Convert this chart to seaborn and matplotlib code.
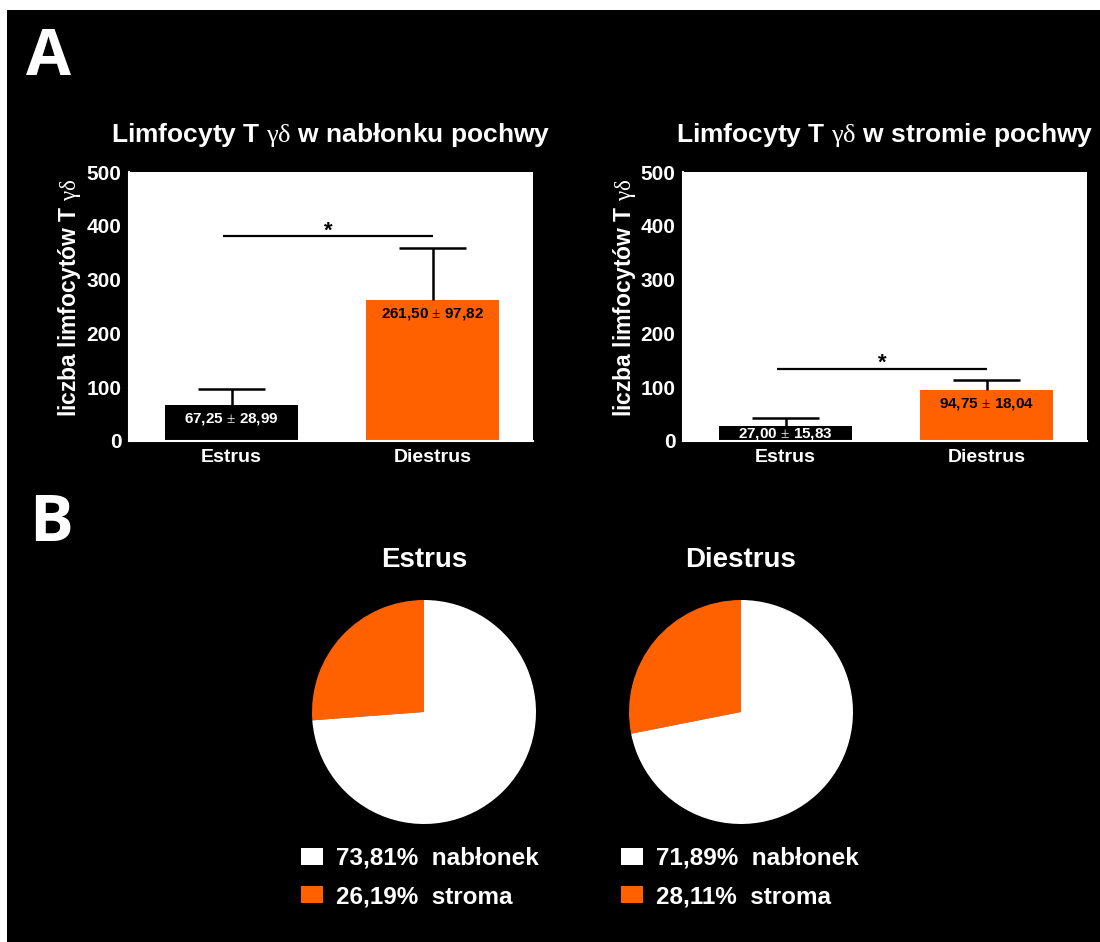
import numpy as np
import matplotlib
matplotlib.use("Agg")
import matplotlib.pyplot as plt
from matplotlib.patches import Rectangle
import seaborn as sns

# ---- data ----
cycle = ["Estrus", "Diestrus"]
epi_mean = [67.25, 261.50]
epi_sd = [28.99, 97.82]
str_mean = [27.00, 94.75]
str_sd = [15.83, 18.04]
pie_stroma = [26.19, 28.11]
pie_epi = [73.81, 71.89]
y_ticks = [0, 100, 200, 300, 400, 500]

ORANGE = "#FF6000"
W, H = 1100, 942

sns.set_theme(style="white")
plt.rcParams["font.family"] = ["Liberation Sans", "DejaVu Sans"]
plt.rcParams["mathtext.fontset"] = "custom"
plt.rcParams["mathtext.rm"] = "Liberation Serif"
plt.rcParams["mathtext.it"] = "Liberation Serif:italic"

fig = plt.figure(figsize=(W / 100, H / 100), dpi=100, facecolor="white")
fig.patches.append(Rectangle((7 / W, 0), 1 - 7 / W, 1 - 10 / H,
                             transform=fig.transFigure, facecolor="black",
                             edgecolor="none", zorder=-10))


def fx(px):
    return px / W


def fy(py):
    return 1 - py / H


def fmt(v):
    return f"{v:.2f}".replace(".", ",")


def bar_panel(left, means, sds, title):
    ax = fig.add_axes([fx(left), fy(441), 404 / W, 269 / H])
    ax.set_facecolor("white")
    sns.barplot(x=cycle, y=means, hue=cycle, palette=["black", ORANGE],
                width=0.66, saturation=1, legend=False, ax=ax, linewidth=0)
    xs = np.arange(len(cycle))
    tops = np.array(means) + np.array(sds)
    ax.vlines(xs, means, tops, color="black", lw=1.8, zorder=3)
    ax.hlines(tops, xs - 0.167, xs + 0.167, color="black", lw=1.8, zorder=3)
    ax.set_xlim(-0.51, 1.5)
    ax.set_ylim(0, 500)
    ax.set_yticks(y_ticks)
    ax.set_xticks(xs)
    ax.set_xticklabels(cycle)
    for s in ["top", "right"]:
        ax.spines[s].set_visible(False)
    for s in ["left", "bottom"]:
        ax.spines[s].set_color("white")
        ax.spines[s].set_linewidth(1.5)
    ax.tick_params(axis="both", colors="white", length=4, width=1.5,
                   labelsize=14, pad=1.5, direction="out")
    ax.tick_params(axis="y", labelsize=15)
    ax.tick_params(axis="x", pad=2)
    for lab in ax.get_xticklabels() + ax.get_yticklabels():
        lab.set_fontweight("bold")
        lab.set_color("white")
    # value labels inside bars
    px_per_unit = 269 / 500
    for i, (m, s) in enumerate(zip(means, sds)):
        if m * px_per_unit > 30:
            y = m - 14 / px_per_unit
        else:
            y = m / 2
        ax.text(i, y, f"{fmt(m)} $\\pm$ {fmt(s)}", ha="center", va="center",
                fontsize=11, fontweight="bold",
                color="white" if i == 0 else "black", zorder=4)
    # significance bar
    ysig = tops.max() + 21
    ax.hlines(ysig, -0.04, 1.0, color="black", lw=1.6, zorder=3)
    ax.text(0.48, ysig - 9, "*", ha="center", va="bottom", fontsize=16,
            fontweight="bold", color="black")
    ax.set_xlabel("")
    ax.set_ylabel("")
    fig.text(fx(left + 202), fy(142), title, ha="center", va="baseline",
             fontsize=19, fontweight="bold", color="white")
    fig.text(fx(left - 59), fy(298), r"liczba limfocytów T $\mathrm{\gamma\delta}$",
             rotation=90, ha="center", va="center", fontsize=16.5,
             fontweight="bold", color="white")
    return ax


bar_panel(129, epi_mean, epi_sd, r"Limfocyty T $\mathrm{\gamma\delta}$ w nabłonku pochwy")
bar_panel(683, str_mean, str_sd, r"Limfocyty T $\mathrm{\gamma\delta}$ w stromie pochwy")

# panel letters
fig.text(fx(26), fy(75), "A", ha="left", va="baseline", fontsize=47,
         fontweight="bold", color="white", family="Open Sans")
fig.text(fx(29), fy(541), "B", ha="left", va="baseline", fontsize=47,
         fontweight="bold", color="white", family="Open Sans")

# pies
for i, (cx, name) in enumerate([(424, "Estrus"), (741, "Diestrus")]):
    ax = fig.add_axes([fx(cx - 112), fy(712 + 112), 224 / W, 224 / H])
    ax.set_facecolor("none")
    wedges, _ = ax.pie([pie_stroma[i], pie_epi[i]], colors=[ORANGE, "white"],
                       startangle=90, counterclock=True,
                       wedgeprops=dict(linewidth=0))
    ax.set_xlim(-1, 1)
    ax.set_ylim(-1, 1)
    ax.axis("off")
    fig.text(fx(cx), fy(567), name, ha="center", va="baseline", fontsize=20,
             fontweight="bold", color="white")
    labels = [f"{fmt(pie_epi[i])}%  nabłonek", f"{fmt(pie_stroma[i])}%  stroma"]
    leg = ax.legend([wedges[1], wedges[0]], labels, loc="upper left",
                    bbox_to_anchor=(fx(cx - 123 + 3 * i), fy(847)),
                    bbox_transform=fig.transFigure, frameon=False,
                    fontsize=17.5, handlelength=0.9, handleheight=0.75,
                    handletextpad=0.55, labelspacing=0.62, borderaxespad=0,
                    borderpad=0)
    for t in leg.get_texts():
        t.set_color("white")
        t.set_fontweight("bold")

fig.savefig("out.png", dpi=100, facecolor="white")
